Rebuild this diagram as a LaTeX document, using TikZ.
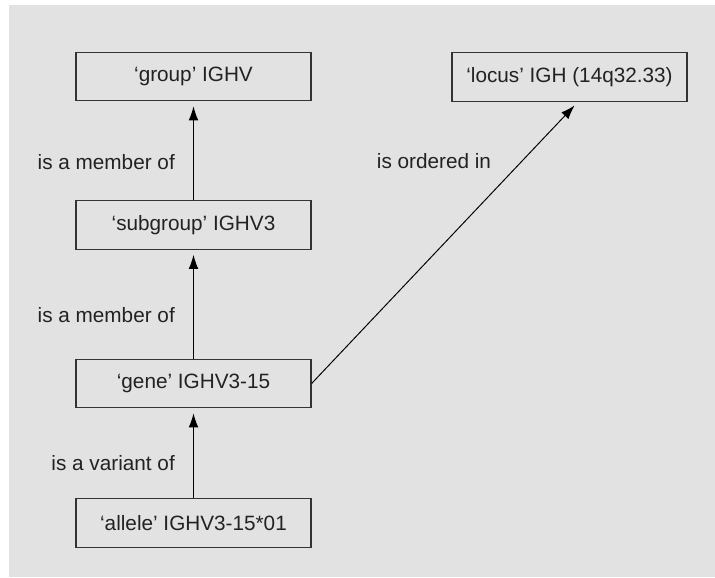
\documentclass[tikz,border=0pt]{standalone}
\usepackage{fontspec}
\setmainfont{Liberation Sans}
\usepackage{tikz}
\usetikzlibrary{arrows.meta,positioning,calc}
\definecolor{panel}{HTML}{E2E2E2}
\definecolor{ink}{HTML}{222222}
\tikzstyle{term} = [draw=black!80,line width=0.7pt,minimum width=4.7cm,minimum height=0.97cm,inner sep=0pt,text=ink]
\tikzstyle{rel} = [text=ink]
\tikzset{>={Latex[length=8pt,width=5.5pt]}}

\begin{document}
\begin{tikzpicture}[font=\fontsize{11.8}{14}\selectfont]
    \useasboundingbox (0,0) rectangle (14.3,11.54);
    \fill [panel] (0.18,0) rectangle (14.3,11.44);

    \node [term] (group) at (3.87,10.01) {‘group’ IGHV};
    \node [term] (locus) at (11.39,10.0) {‘locus’ IGH (14q32.33)};
    \node [term] (subgroup) at (3.87,7.04) {‘subgroup’ IGHV3};
    \node [term] (gene) at (3.87,3.87) {‘gene’ IGHV3-15};
    \node [term] (allele) at (3.87,1.08) {‘allele’ IGHV3-15*01};

    \draw [->,shorten >=2.8pt,line width=0.55pt] (subgroup) -- (group);
    \draw [->,shorten >=2.8pt,line width=0.55pt] (gene) -- (subgroup);
    \draw [->,shorten >=2.8pt,line width=0.55pt] (allele) -- (gene);
    \draw [->,shorten >=2.8pt,line width=0.55pt] (gene.east) -- ($(locus.south)+(0.17,0)$);

    \node [rel,anchor=east] (memb1) at (3.62,8.3) {is a member of};
    \node [rel,anchor=east] (memb2) at (3.62,5.24) {is a member of};
    \node [rel,anchor=east] (vari) at (3.62,2.28) {is a variant of};
    \node [rel] (order) at (8.68,8.32) {is ordered in};
\end{tikzpicture}
\end{document}
